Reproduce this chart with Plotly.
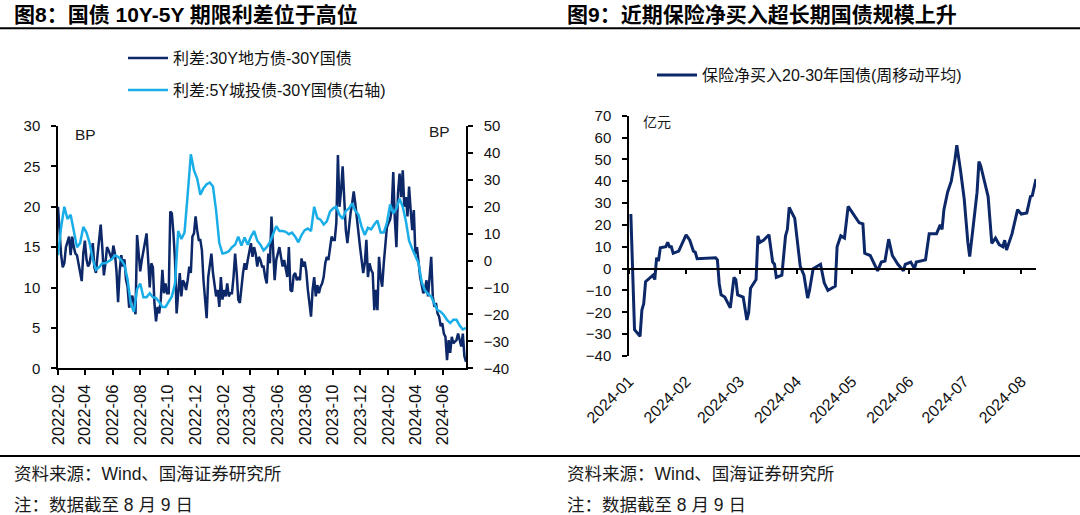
import pandas as pd
import plotly.graph_objects as go

# ---------------- Figure 8 data (BP) ----------------
# 30Y local-government bond minus 30Y CGB, sampled every half week
local_dates = pd.date_range("2022-02-18", periods=259, freq="84h")
local_30y_minus_cgb = [
    20, 17, 14, 12.5, 13, 15, 15.8, 16.3, 14, 16.3,
    15, 14.2, 14, 13, 12, 10.8, 14.2, 15.8, 13.5, 12.6,
    13, 14.5, 15.5, 12.5, 11.8, 14, 16, 17.8, 15, 11.5,
    13, 15, 14.6, 14, 13.5, 15.2, 14.2, 12, 8.2, 12,
    14, 12.6, 13.5, 11, 10.1, 7.5, 8.5, 9, 7.6, 6.7,
    16.5, 14, 12, 13.4, 14.5, 15.5, 16.7, 13.5, 10, 13,
    12.5, 8, 5.8, 7.6, 6.8, 8.5, 12.2, 9.3, 10.5, 9.3,
    9.3, 19.4, 19.2, 16.7, 13.4, 6.8, 9.3, 11.8, 8.9, 10.9,
    10.5, 9.7, 10.9, 12.6, 11.8, 16.3, 16.7, 18.8, 17.1, 15.9,
    15.9, 14.6, 10.9, 8.5, 6.2, 11.3, 13, 14.2, 11.8, 10.1,
    8.9, 9.7, 7.6, 11.3, 8.5, 9.7, 8.9, 10.5, 8.9, 9.3,
    9.3, 11.3, 14.2, 11.8, 8.5, 8.1, 10.1, 11.8, 13, 12.2,
    13.4, 14.6, 15.5, 13.8, 15, 14.2, 12.6, 13.8, 13.4, 12.6,
    12.6, 11.3, 10.5, 14.2, 13, 18.8, 14.2, 10.9, 13.4, 14.2,
    15, 13.8, 12.6, 13.4, 12.5, 11.3, 15, 9.7, 9.5, 11.5,
    11.8, 10.9, 11.3, 10.9, 13.6, 12.6, 13.2, 12, 9.7, 8.3,
    6.4, 9.7, 11.3, 8.9, 10.3, 9.3, 10.1, 10.5, 11.3, 13,
    13.8, 13.4, 15, 16.3, 15.9, 15.9, 18, 26.4, 20, 22,
    25, 21.7, 17.1, 15.5, 17.5, 19.2, 20.4, 21.9, 20.4, 18.4,
    17.1, 15, 13.4, 11.8, 13, 15.9, 11.3, 13, 12.2, 11.8,
    7.2, 9.7, 7.2, 13.8, 11.3, 10.1, 13, 15, 17.5, 18,
    18.4, 19.6, 24.3, 18.4, 15, 21.7, 24.1, 21.2, 24.5, 20,
    21.2, 18.8, 22.5, 19.6, 17.1, 19.6, 14.2, 15, 13, 11.3,
    10.3, 9.3, 9.7, 10.9, 8.9, 11.8, 13.8, 8.9, 7.6, 8.1,
    6.8, 6.4, 5.2, 5.6, 4.3, 3.9, 1.0, 3.5, 1.9, 3.9,
    3.1, 3.3, 3.5, 4.3, 3.3, 2.7, 4.3, 1.5, 0.8,
]

# 5Y LGFV bond minus 30Y CGB (right axis), weekly samples
lgfv_dates = pd.date_range("2022-02-18", periods=130, freq="7D")
lgfv_5y_minus_cgb30 = [
    2.0, 12.5, 20.0, 15.5, 17.0, 11.0, 5.0, 6.5, 12.5, 10.4,
    6.5, 0.5, -3.4, -2.5, -1.0, -1.0, -0.4, 0.5, 2.0, 1.4,
    0.2, -1.6, -7.0, -16.0, -19.0, -10.6, -8.5, -13.6, -13.6, -12.1,
    -13.6, -13.9, -15.4, -17.2, -17.2, -15.4, -13.3, -8.5, 11.0, 8.0,
    10.4, 24.5, 39.5, 33.5, 30.5, 24.5, 26.9, 28.4, 29.0, 27.5,
    18.5, 6.5, 2.6, 2.9, 3.5, 5.0, 5.9, 8.9, 5.6, 8.6,
    5.9, 8.9, 11.0, 7.4, 5.9, 3.8, 5.0, 6.8, 9.5, 12.8,
    11.0, 11.0, 10.7, 9.8, 10.4, 8.9, 6.8, 9.5, 11.3, 11.9,
    11.0, 20.0, 15.8, 15.2, 13.4, 14.6, 18.2, 19.4, 20.0, 17.0,
    15.5, 18.5, 19.4, 21.2, 18.5, 17.0, 12.5, 9.5, 12.2, 11.6,
    13.4, 14.9, 10.4, 10.4, 14.0, 20.9, 17.6, 19.4, 23.0, 20.0,
    14.6, 7.4, 4.4, 1.4, -1.0, -8.0, -11.0, -12.4, -13.3, -16.0,
    -18.4, -19.0, -20.2, -22.0, -23.2, -22.0, -22.0, -24.1, -25.6, -25.0,
]

fig8_tick_labels = ["2022-02", "2022-04", "2022-06", "2022-08", "2022-10", "2022-12",
                    "2023-02", "2023-04", "2023-06", "2023-08", "2023-10", "2023-12",
                    "2024-02", "2024-04", "2024-06"]

# ---------------- Figure 9 data (亿元) ----------------
ins_dates = [
    "2024-01-02", "2024-01-03", "2024-01-04", "2024-01-07", "2024-01-08", "2024-01-09",
    "2024-01-10", "2024-01-14", "2024-01-15", "2024-01-16", "2024-01-17", "2024-01-18",
    "2024-01-21", "2024-01-22", "2024-01-23", "2024-01-24", "2024-01-25", "2024-01-28",
    "2024-02-01", "2024-02-03", "2024-02-05", "2024-02-06", "2024-02-07", "2024-02-17",
    "2024-02-18", "2024-02-19", "2024-02-20", "2024-02-22", "2024-02-25", "2024-02-27",
    "2024-02-28", "2024-02-29", "2024-03-03", "2024-03-05", "2024-03-06", "2024-03-07",
    "2024-03-10", "2024-03-11", "2024-03-12", "2024-03-14", "2024-03-17", "2024-03-19",
    "2024-03-20", "2024-03-21", "2024-03-24", "2024-03-26", "2024-03-27", "2024-03-28",
    "2024-03-30", "2024-03-31", "2024-04-03", "2024-04-05", "2024-04-07", "2024-04-08",
    "2024-04-10", "2024-04-14", "2024-04-16", "2024-04-18", "2024-04-22", "2024-04-23",
    "2024-04-25", "2024-04-27", "2024-04-29", "2024-05-02", "2024-05-05", "2024-05-07",
    "2024-05-08", "2024-05-11", "2024-05-15", "2024-05-17", "2024-05-19", "2024-05-21",
    "2024-05-23", "2024-05-26", "2024-05-29", "2024-05-30", "2024-06-02", "2024-06-04",
    "2024-06-05", "2024-06-10", "2024-06-12", "2024-06-16", "2024-06-18", "2024-06-19",
    "2024-06-20", "2024-06-22", "2024-06-24", "2024-06-26", "2024-06-27", "2024-06-29",
    "2024-07-01", "2024-07-03", "2024-07-04", "2024-07-06", "2024-07-08", "2024-07-09",
    "2024-07-10", "2024-07-12", "2024-07-14", "2024-07-16", "2024-07-18", "2024-07-20",
    "2024-07-22", "2024-07-23", "2024-07-24", "2024-07-27", "2024-07-30", "2024-08-01",
    "2024-08-04", "2024-08-06", "2024-08-07", "2024-08-09",
]
ins_net_buy = [
    25, 0, -28, -31, -19, -16,
    -6, -3, -5, 5, 3.5, 9.5,
    10, 12, 10, 10, 7, 8,
    15.5, 13, 8, 7.5, 4.5, 5,
    4, -7, -12, -13, -18, -4,
    -5, -12, -13, -23.5, -20, -9,
    -5, 15, 12, 13, 15.5, 3,
    2, -4, -3, 15, 18, 28,
    25, 23, 1, -3, -13.5, -10,
    0, 2, -6.5, -10, -8, 10,
    15, 14, 28.5, 25, 21, 20.5,
    7, 6, -1, 3, 3.5, 13.5,
    6, 2, -1, 2, 3, 0,
    3, 4, 16, 16, 20, 18,
    27, 35, 40, 50, 56.5, 45,
    32, 12, 5.5, 20, 35, 49,
    47, 40, 33, 11.5, 14, 11,
    10, 13, 8.5, 16, 27, 25,
    25.5, 33, 33.5, 41,
]
fig9_tick_labels = ["2024-01", "2024-02", "2024-03", "2024-04",
                    "2024-05", "2024-06", "2024-07", "2024-08"]

# ---------------- styling ----------------
W, H = 1080, 515
FONT = "Liberation Sans, Arial, Noto Sans CJK SC, sans-serif"
DARK = "#0c2869"
LIGHT = "#1aaee8"
INK = "#111111"


def px(x):
    return x / W


def py(y):
    return 1 - y / H


fig = go.Figure()

fig.add_trace(go.Scatter(
    x=local_dates, y=local_30y_minus_cgb, mode="lines",
    name="利差:30Y地方债-30Y国债", line=dict(color=DARK, width=2.5),
    xaxis="x", yaxis="y", legend="legend",
))
fig.add_trace(go.Scatter(
    x=lgfv_dates, y=lgfv_5y_minus_cgb30, mode="lines",
    name="利差:5Y城投债-30Y国债(右轴)", line=dict(color=LIGHT, width=2.5),
    xaxis="x", yaxis="y2", legend="legend2",
))
fig.add_trace(go.Scatter(
    x=ins_dates, y=ins_net_buy, mode="lines",
    name="保险净买入20-30年国债(周移动平均)", line=dict(color=DARK, width=3),
    xaxis="x2", yaxis="y3", legend="legend3",
))
# helper trace so the zero-crossing category axis of figure 9 is drawn
fig.add_trace(go.Scatter(
    x=[ins_dates[0]], y=[0], mode="lines", line=dict(width=0),
    xaxis="x3", yaxis="y3", showlegend=False, hoverinfo="skip",
))

axis_common = dict(showgrid=False, zeroline=False, showline=True, linecolor="black",
                   linewidth=1.5, ticks="outside", ticklen=5, tickcolor="black",
                   tickwidth=1.5, automargin=False,
                   tickfont=dict(family=FONT, size=15, color=INK))

y8_bottom, y8_top = py(368.3), py(126)
y9_bottom, y9_top = py(356), py(115.7)
y9_range = [-40, 70]
zero_pos = y9_bottom + (0 - y9_range[0]) / (y9_range[1] - y9_range[0]) * (y9_top - y9_bottom)

fig.update_layout(
    width=W, height=H,
    margin=dict(l=0, r=0, t=0, b=0, autoexpand=False),
    paper_bgcolor="white", plot_bgcolor="white",
    font=dict(family=FONT, color=INK),
    xaxis=dict(
        domain=[px(58), px(466)], anchor="y", type="date",
        range=["2022-02-18", "2024-08-09"],
        tickmode="array", tickvals=[t + "-19" for t in fig8_tick_labels],
        ticktext=fig8_tick_labels, tickangle=-90, ticklabelstandoff=3,
        **{**axis_common, "tickfont": dict(family=FONT, size=16.5, color=INK)},
    ),
    yaxis=dict(domain=[y8_bottom, y8_top], anchor="x", range=[0, 30], dtick=5, tick0=0,
               ticklabelstandoff=8, **axis_common),
    yaxis2=dict(overlaying="y", side="right", anchor="x", range=[-40, 50], dtick=10,
                tick0=0, ticklabelstandoff=8, **axis_common),
    xaxis2=dict(
        domain=[px(629), px(1036)], anchor="y3", type="date",
        range=["2024-01-01", "2024-08-09"],
        tickmode="array", tickvals=[t + "-01" for t in fig9_tick_labels],
        ticktext=fig9_tick_labels, tickangle=-45, ticks="", showline=False,
        showgrid=False, zeroline=False, ticklabelstandoff=12, automargin=False,
        tickfont=dict(family=FONT, size=16, color=INK),
    ),
    xaxis3=dict(
        overlaying="x2", anchor="free", position=zero_pos, type="date",
        range=["2024-01-01", "2024-08-09"],
        tickmode="array", tickvals=[t + "-01" for t in fig9_tick_labels],
        showticklabels=False, **axis_common,
    ),
    yaxis3=dict(domain=[y9_bottom, y9_top], anchor="x2", range=y9_range, dtick=10,
                tick0=0, ticklabelstandoff=8, **axis_common),
    legend=dict(x=px(123), y=py(58), xanchor="left", yanchor="middle",
                itemwidth=40, bgcolor="rgba(0,0,0,0)",
                font=dict(family=FONT, size=16, color=INK)),
    legend2=dict(x=px(123), y=py(90), xanchor="left", yanchor="middle",
                 itemwidth=40, bgcolor="rgba(0,0,0,0)",
                 font=dict(family=FONT, size=16, color=INK)),
    legend3=dict(x=px(652), y=py(75), xanchor="left", yanchor="middle",
                 itemwidth=40, bgcolor="rgba(0,0,0,0)",
                 font=dict(family=FONT, size=16, color=INK)),
    showlegend=True,
)

annotations = [
    dict(text="<b>图8：国债 10Y-5Y 期限利差位于高位</b>", x=px(12), y=py(14.5)),
    dict(text="<b>图9：近期保险净买入超长期国债规模上升</b>", x=px(565), y=py(14.5)),
]
for a in annotations:
    a.update(xref="paper", yref="paper", xanchor="left", yanchor="middle",
             showarrow=False, font=dict(family=FONT, size=21, color="black"))

small = [
    dict(text="BP", x=px(73), y=py(134), xanchor="left", size=15.5),
    dict(text="BP", x=px(452), y=py(131), xanchor="right", size=15.5),
    dict(text="亿元", x=px(641), y=py(122), xanchor="left", size=14),
    dict(text="资料来源：Wind、国海证券研究所", x=px(12), y=py(474), xanchor="left", size=17.5),
    dict(text="注：数据截至 8 月 9 日", x=px(12), y=py(505), xanchor="left", size=17.5),
    dict(text="资料来源：Wind、国海证券研究所", x=px(565), y=py(474), xanchor="left", size=17.5),
    dict(text="注：数据截至 8 月 9 日", x=px(565), y=py(505), xanchor="left", size=17.5),
]
for s in small:
    annotations.append(dict(text=s["text"], x=s["x"], y=s["y"], xref="paper", yref="paper",
                            xanchor=s["xanchor"], yanchor="middle", showarrow=False,
                            font=dict(family=FONT, size=s["size"], color="#1a1a1a")))

fig.update_layout(annotations=annotations)

shapes = []
for yline in (28.3, 456):
    shapes.append(dict(type="line", xref="paper", yref="paper", x0=0, x1=1,
                       y0=py(yline), y1=py(yline), line=dict(color="black", width=2)))
fig.update_layout(shapes=shapes)

# remove the browser's default page margin so the 1080x515 figure fills the window
fig.write_html("out.html",
               config={"displayModeBar": False},
               post_script="document.body.style.margin='0';document.body.style.overflow='hidden';")
